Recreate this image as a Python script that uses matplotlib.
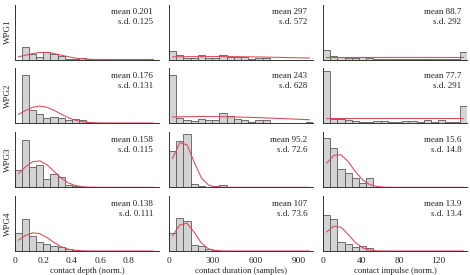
import numpy as np
import matplotlib
matplotlib.use("Agg")
import matplotlib.pyplot as plt

plt.rcParams['font.family'] = ['Liberation Serif', 'DejaVu Serif']

# row / column labels
groups = ["WPG1", "WPG2", "WPG3", "WPG4"]
xlabels = ["contact depth (norm.)", "contact duration (samples)", "contact impulse (norm.)"]

# histogram bins per column (20 bins each)
bin_width = [0.05, 50, 7.5]
x_max = [1.015, 1000, 150]
xticks = [[0, 0.2, 0.4, 0.6, 0.8], [0, 300, 600, 900], [0, 40, 80, 120]]
xticklabels = [["0", "0.2", "0.4", "0.6", "0.8"], ["0", "300", "600", "900"], ["0", "40", "80", "120"]]

# fitted normal parameters (mean, sd) per group, per column
depth_mean = [0.201, 0.176, 0.158, 0.138]
depth_sd = [0.125, 0.131, 0.115, 0.111]
dur_mean = [297, 243, 95.2, 107]
dur_sd = [572, 628, 72.6, 73.6]
imp_mean = [88.7, 77.7, 15.6, 13.9]
imp_sd = [292, 291, 14.8, 13.4]

mean_txt = [["0.201", "0.176", "0.158", "0.138"],
            ["297", "243", "95.2", "107"],
            ["88.7", "77.7", "15.6", "13.9"]]
sd_txt = [["0.125", "0.131", "0.115", "0.111"],
          ["572", "628", "72.6", "73.6"],
          ["292", "291", "14.8", "13.4"]]

# histogram densities
depth_hist = [
    [0, 5.4, 2.45, 1.2, 3.2, 2.45, 1.7, 0.25, 0.25, 0.75, 0.25, 0, 0, 0, 0, 0, 0, 0, 0, 0],
    [0, 8.7, 2.43, 1.69, 0.99, 1.09, 0.99, 0.6, 0.79, 0.5, 0.25, 0.05, 0, 0, 0, 0, 0, 0, 0, 0],
    [2.25, 6.15, 2.68, 2.9, 1.04, 1.69, 1.36, 0.29, 0.18, 0.07, 0.04, 0, 0.04, 0.04, 0, 0, 0, 0, 0, 0],
    [3.46, 6.2, 2.9, 1.73, 1.3, 0.97, 0.76, 0.38, 0.1, 0.05, 0, 0, 0, 0, 0, 0, 0, 0, 0, 0],
]
dur_hist = [
    [1.99, 1.04, 0.46, 0.46, 0.98, 0.46, 0.46, 1.17, 0.65, 0.65, 0.65, 0.16, 0.46, 0.39, 0, 0, 0, 0, 0, 0],
    [4.76, 0.54, 0.27, 0.2, 0.43, 0.27, 0.27, 1.03, 0.65, 0.36, 0.27, 0.07, 0.27, 0.27, 0, 0, 0, 0, 0, 0.11],
    [4.31, 5.48, 6.33, 0.36, 0.2, 0.08, 0.2, 0.27, 0.03, 0, 0, 0, 0, 0, 0, 0, 0, 0, 0, 0],
    [3.47, 6.31, 5.73, 1.15, 0.94, 0.31, 0.13, 0, 0, 0, 0, 0, 0, 0, 0, 0, 0, 0, 0, 0],
]  # x 1e-3
imp_hist = [
    [6.1, 2.2, 1.8, 1.1, 0.9, 1.8, 0.7, 0.4, 0.2, 0.4, 0.4, 0.4, 0.3, 0.4, 0.2, 0.4, 0.4, 0.4, 0.2, 4.7],
    [15.5, 1.22, 1.22, 0.83, 0.5, 0.3, 0.41, 0.5, 0.5, 0.3, 0.3, 0.5, 0.5, 0.2, 0.83, 0.3, 0.83, 0.3, 0.3, 5.1],
    [40.1, 31.6, 14.7, 11.3, 7.3, 3.2, 7.8, 0.5, 0.2, 0, 0, 0, 0, 0, 0, 0, 0, 0, 0, 0],
    [42.4, 37.3, 11.0, 8.2, 4.3, 5.8, 3.6, 0.3, 0, 0, 0, 0, 0, 0, 0, 0, 0, 0, 0, 0],
]  # x 1e-3

# y-axis tops per panel
depth_ytop = [24.5, 9.9, 7.15, 10.8]
dur_ytop = [0.013, 0.00543, 0.00653, 0.01042]
imp_ytop = [0.036, 0.0165, 0.0445, 0.0647]

hists = [np.array(depth_hist), np.array(dur_hist) * 1e-3, np.array(imp_hist) * 1e-3]
means = [depth_mean, dur_mean, imp_mean]
sds = [depth_sd, dur_sd, imp_sd]
ytops = [depth_ytop, dur_ytop, imp_ytop]

BAR_FACE = "#d3d3d3"
BAR_EDGE = "#5a5a5a"
CURVE = "#e04656"
SPINE = "#333333"

W, H = 470, 275
fig = plt.figure(figsize=(W / 100, H / 100), dpi=100)

col_left = [15, 169, 323]
ax_w = 144
row_bottom = [59.5, 123, 187.3, 251]
ax_h = 55

for r in range(4):
    for c in range(3):
        ax = fig.add_axes([col_left[c] / W, (H - row_bottom[r]) / H, ax_w / W, ax_h / H])
        bw = bin_width[c]
        edges = np.arange(20) * bw
        ax.bar(edges, hists[c][r], width=bw, align='edge', color=BAR_FACE,
               edgecolor=BAR_EDGE, linewidth=0.6, zorder=2)
        centers = edges + bw / 2
        m, s = means[c][r], sds[c][r]
        pdf = np.exp(-0.5 * ((centers - m) / s) ** 2) / (s * np.sqrt(2 * np.pi))
        ax.plot(centers, pdf, color=CURVE, lw=0.75, zorder=3)

        ax.set_xlim(0, x_max[c])
        ax.set_ylim(0, ytops[c][r])
        ax.set_yticks([])
        for side in ["top", "right"]:
            ax.spines[side].set_visible(False)
        for side in ["left", "bottom"]:
            ax.spines[side].set_color(SPINE)
            ax.spines[side].set_linewidth(0.7)
        ax.patch.set_alpha(0)

        ax.text(0.96, 0.86, "mean " + mean_txt[c][r], transform=ax.transAxes,
                ha='right', va='center', fontsize=6.5, color="#222222")
        ax.text(0.96, 0.68, "s.d. " + sd_txt[c][r], transform=ax.transAxes,
                ha='right', va='center', fontsize=6.5, color="#222222")

        if r == 3:
            ax.set_xticks(xticks[c])
            ax.set_xticklabels(xticklabels[c])
            ax.tick_params(axis='x', length=0, pad=4, labelsize=6.8, colors="#222222")
            ax.set_xlabel(xlabels[c], fontsize=6.2, labelpad=1.5, color="#222222")
        else:
            ax.set_xticks([])

        if c == 0:
            yc = (H - row_bottom[r] + ax_h / 2) / H
            fig.text(8 / W, yc, groups[r], rotation=90, ha='center', va='center',
                     fontsize=6.5, color="#222222")

fig.savefig("out.png", dpi=100)
